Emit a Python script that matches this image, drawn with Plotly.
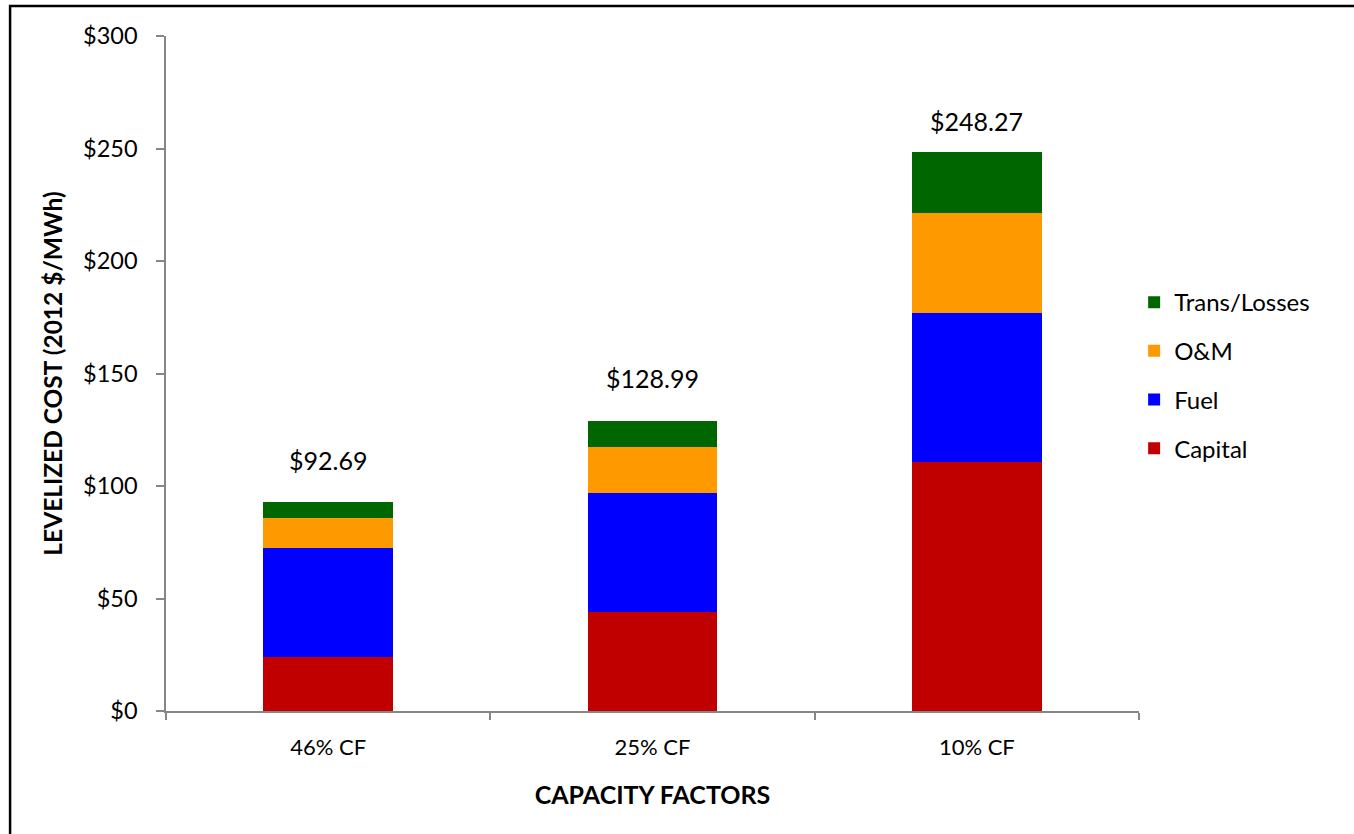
import plotly.graph_objects as go

categories = ["46% CF", "25% CF", "10% CF"]
capital = [24.0, 44.1, 110.5]
fuel = [48.4, 52.6, 66.2]
om = [13.5, 20.6, 44.5]
trans = [6.79, 11.69, 27.07]
totals = [92.69, 128.99, 248.27]
total_labels = ["$92.69", "$128.99", "$248.27"]
y_ticks = [0, 50, 100, 150, 200, 250, 300]
y_tick_labels = ["$0", "$50", "$100", "$150", "$200", "$250", "$300"]

FONT = "Lato"
series = [
    ("Capital", capital, "#C00000"),
    ("Fuel", fuel, "#0000FF"),
    ("O&M", om, "#FF9900"),
    ("Trans/Losses", trans, "#006600"),
]

fig = go.Figure()
for i, (name, vals, col) in enumerate(series):
    fig.add_trace(go.Bar(
        name=name, x=categories, y=vals, marker=dict(color=col, line=dict(width=0)),
        legendgroup=f"g{i}", legendrank=len(series) - i,
    ))

label_shift = [42, 43, 31]
for c, t, lab, s in zip(categories, totals, total_labels, label_shift):
    fig.add_annotation(x=c, y=t, text=lab, showarrow=False, yshift=s,
                       font=dict(family=FONT, size=25, color="black"))

W, H = 1354, 834
L, R, T, B = 166, 214.5, 36, 123
pw, ph = W - L - R, H - T - B
fig.add_shape(type="rect", xref="paper", yref="paper",
              x0=(10 - L) / pw, x1=(W + 20 - L) / pw,
              y0=(H - B - (H + 20)) / ph, y1=(H - B - 6) / ph,
              line=dict(color="black", width=2.5), fillcolor="rgba(0,0,0,0)")

fig.update_layout(
    width=W, height=H,
    barmode="stack", bargap=0.6,
    plot_bgcolor="white", paper_bgcolor="white",
    margin=dict(l=L, r=R, t=T, b=B),
    font=dict(family=FONT, size=22, color="black"),
    legend=dict(traceorder="grouped", x=0.995, xanchor="left", y=0.497, yanchor="middle",
                font=dict(family=FONT, size=24), tracegroupgap=14.5,
                bgcolor="rgba(0,0,0,0)"),
    xaxis=dict(
        showline=True, linecolor="#868686", linewidth=1.5,
        ticks="outside", tickson="boundaries", ticklen=7, tickcolor="#868686", tickwidth=1.5,
        tickfont=dict(family=FONT, size=22), ticklabelstandoff=16,
        title=dict(text="<b>CAPACITY FACTORS</b>", font=dict(family=FONT, size=25), standoff=27),
        showgrid=False,
    ),
    yaxis=dict(
        range=[0, 300], tickvals=y_ticks, ticktext=y_tick_labels,
        showline=True, linecolor="#868686", linewidth=1.5,
        ticks="outside", ticklen=8, tickcolor="#868686", tickwidth=1.5,
        tickfont=dict(family=FONT, size=23.5), ticklabelstandoff=14,
        title=dict(text="<b>LEVELIZED COST (2012 $/MWh)</b>", font=dict(family=FONT, size=24.5), standoff=13),
        showgrid=False, zeroline=False,
    ),
)

fig.write_html("out.html", config={"displayModeBar": False},
               post_script="document.body.style.margin='0';")
